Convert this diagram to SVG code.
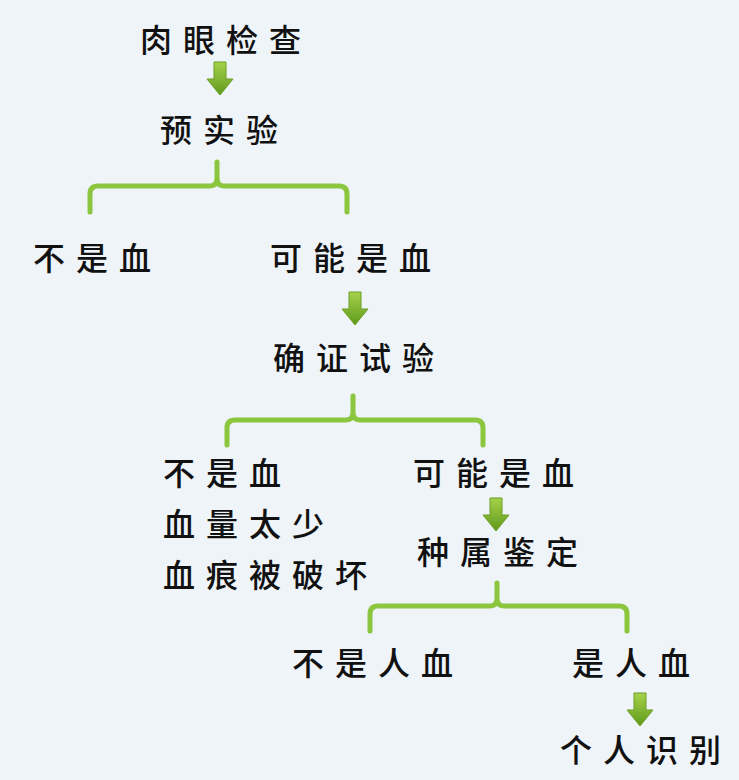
<svg xmlns="http://www.w3.org/2000/svg" width="739" height="780" viewBox="0 0 739 780">
<defs>
<linearGradient id="ag" x1="0" y1="0" x2="0" y2="1">
<stop offset="0" stop-color="#a6d24a"/>
<stop offset="1" stop-color="#5f9a1c"/>
</linearGradient>
<path id="arrow" d="M-6,0 H6 V17 H13 L0,33 L-13,17 H-6 Z" fill="url(#ag)" stroke="#6a9e22" stroke-width="1"/>
<style>
text{font-family:"Noto Sans CJK SC","Noto Sans CJK TC",sans-serif;font-size:32px;letter-spacing:11px;fill:#111;font-weight:500}
.br{fill:none;stroke:#8cc63f;stroke-width:5;stroke-linecap:round;stroke-linejoin:round}
</style>
</defs>
<rect width="739" height="780" fill="#eef4f7"/>
<g id="connectors">
<use href="#arrow" x="220" y="62"/>
<path class="br" d="M90,212 V194 Q90,186 98,186 H210 Q217,186 217,178 V162 M217,178 Q217,186 224,186 H339 Q347,186 347,194 V212"/>
<use href="#arrow" x="355" y="292"/>
<path class="br" d="M227,445 V428 Q227,420 235,420 H346 Q353,420 353,412 V396 M353,412 Q353,420 360,420 H475 Q483,420 483,428 V445"/>
<use href="#arrow" x="496" y="498"/>
<path class="br" d="M370,631 V614 Q370,606 378,606 H490 Q497,606 497,598 V583 M497,598 Q497,606 504,606 H619 Q627,606 627,614 V631"/>
<use href="#arrow" x="640" y="693"/>
</g>
<g id="n1"><text x="140" y="52">肉眼检查</text></g>
<g id="n2"><text x="160" y="142">预实验</text></g>
<g id="n3"><text x="33" y="270">不是血</text></g>
<g id="n4"><text x="270" y="270">可能是血</text></g>
<g id="n5"><text x="273" y="370">确证试验</text></g>
<g id="n6"><text x="163" y="485">不是血</text><text x="163" y="536">血量太少</text><text x="163" y="587">血痕被破坏</text></g>
<g id="n7"><text x="413" y="485">可能是血</text></g>
<g id="n8"><text x="417" y="564">种属鉴定</text></g>
<g id="n9"><text x="292" y="675">不是人血</text></g>
<g id="n10"><text x="572" y="675">是人血</text></g>
<g id="n11"><text x="560" y="762">个人识别</text></g>
</svg>
